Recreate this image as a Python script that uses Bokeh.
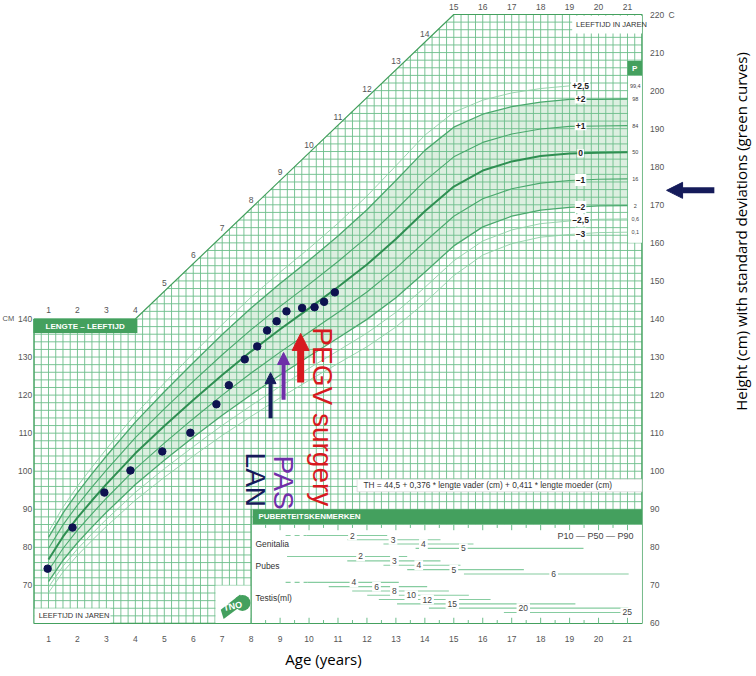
import numpy as np
from bokeh.plotting import figure
from bokeh.models import Range1d, Arrow, NormalHead
from bokeh.core.properties import value
from bokeh.embed import file_html
from bokeh.resources import INLINE

# ---------------- data ----------------
ages = [1, 1.5, 2, 2.5, 3, 4, 5, 6, 7, 8, 9, 10, 11, 12, 13, 14, 15, 16, 17, 18, 19, 20, 21]
mean_cm = [76.8, 82.8, 87.8, 92.3, 96.6, 104.7, 111.9, 118.7, 125.3, 131.5, 137.3, 142.8,
           148.4, 154.3, 161.0, 168.3, 174.8, 179.0, 181.4, 182.8, 183.5, 183.7, 183.8]
sd_cm = [2.9, 3.1, 3.3, 3.5, 3.7, 4.1, 4.5, 4.9, 5.3, 5.7, 6.0, 6.3,
         6.7, 7.2, 7.7, 8.0, 7.8, 7.4, 7.2, 7.1, 7.1, 7.0, 7.0]
sd_levels = [2.5, 2, 1, 0, -1, -2, -2.5, -3]
sd_labels = ["+2,5", "+2", "+1", "0", "\u20131", "\u20132", "\u20132,5", "\u20133"]
pct_labels = ["99,4", "98", "84", "50", "16", "2", "0,6", "0,1"]

patient_age = [0.97, 1.83, 2.93, 3.83, 4.93, 5.90, 6.80, 7.23, 7.78, 8.21, 8.55, 8.88,
               9.22, 9.76, 10.19, 10.52, 10.89]
patient_cm = [74.4, 85.2, 94.4, 100.2, 105.2, 110.1, 117.6, 122.6, 129.4, 132.8, 137.0,
              139.4, 142.0, 142.9, 143.1, 144.5, 147.0]

treat_names = ["LAN", "PAS", "PEGV surgery"]
treat_age = [8.67, 9.12, 9.71]
treat_from_cm = [113.9, 118.8, 123.3]
treat_to_cm = [125.9, 131.2, 136.2]

final_height_arrow_cm = 173.8

gen_stage = ["2", "3", "4", "5"]
gen_p10 = [9.91, 11.33, 12.57, 13.68]
gen_p50 = [11.50, 12.90, 13.95, 15.33]
gen_p90 = [12.70, 14.54, 15.68, 19.48]
gen_early = 9.19
pub_stage = ["2", "3", "4", "5", "6"]
pub_p10 = [9.24, 11.32, 12.57, 13.39, 15.35]
pub_p50 = [11.78, 12.95, 13.79, 15.00, 18.45]
pub_p90 = [13.39, 14.54, 15.23, 17.42, 21.04]
tes_stage = ["4", "6", "8", "10", "12", "15", "20", "25"]
tes_p10 = [9.94, 10.68, 11.49, 12.01, 12.41, 13.04, 14.14, 16.73]
tes_p50 = [11.55, 12.33, 12.95, 13.53, 14.08, 14.95, 17.40, 20.99]
tes_p90 = [13.10, 14.08, 14.83, 15.52, 16.27, 19.20, 21.03, 20.99]
tes_early = 9.19

left_ticks = [70, 80, 90, 100, 110, 120, 130, 140]
right_ticks = [60, 70, 80, 90, 100, 110, 120, 130, 140, 150, 160, 170, 180, 190, 200, 210, 220]
bottom_ages = list(range(1, 22))
top_left_ages = [1, 2, 3, 4]
diag_ages = [5, 6, 7, 8, 9, 10, 11, 12, 13, 14]
top_right_ages = [15, 16, 17, 18, 19, 20, 21]

# ---------------- style ----------------
GRID = "#6cbd8a"
BOX = "#44a05e"
FILL = "#dcefe0"
NAVY = "#151b5a"
PURPLE = "#6f2fa8"
RED = "#d7191f"
TXT = "#555555"
FONT = value("Liberation Sans")

p = figure(width=754, height=674, x_range=Range1d(-0.658, 25.387), y_range=Range1d(46.59, 223.68),
           x_axis_type=None, y_axis_type=None, min_border=0, outline_line_color=None,
           toolbar_location=None, output_backend="svg", background_fill_color="white",
           border_fill_color="white")

def top_of(a):
    if a <= 4:
        return 140.0
    if a >= 15:
        return 220.0
    return 140.0 + (a - 4) * 80.0 / 11.0

def left_of(c):
    if c <= 140:
        return 0.5
    return 4.0 + (c - 140) * 11.0 / 80.0

ages_a = np.array(ages)
mean_a = np.array(mean_cm)
sd_a = np.array(sd_cm)

# shaded band -2..+2
up = mean_a + 2 * sd_a
lo = mean_a - 2 * sd_a
p.patch(list(ages_a) + list(ages_a[::-1]), list(up) + list(lo[::-1]), fill_color=FILL, line_color=None)

# grid
gx, gy = [], []
for a in np.arange(0.5, 21.5 + 1e-9, 0.25):
    gx.append([a, a]); gy.append([60, top_of(a)])
for c in np.arange(60, 220 + 1e-9, 2):
    gx.append([left_of(c), 21.5]); gy.append([c, c])
p.multi_line(gx, gy, line_color=GRID, line_width=0.9)

# frame
p.patch([0.5, 21.5, 21.5, 15, 4, 0.5], [60, 60, 220, 220, 140, 140], fill_color=None,
        line_color=BOX, line_width=1.2)

# SD curves (+2.5 stops at its label)
style = {2.5: ("#8fd0a6", 0.9), 2: ("#4aa96d", 1.3), 1: ("#4aa96d", 1.1), 0: ("#2f8f52", 2.0),
         -1: ("#4aa96d", 1.1), -2: ("#4aa96d", 1.3), -2.5: ("#8fd0a6", 0.9), -3: ("#8fd0a6", 0.9)}
for z in sd_levels:
    col, w = style[z]
    n = len(ages) - 2 if z == 2.5 else len(ages)
    p.line(ages_a[:n], (mean_a + z * sd_a)[:n], line_color=col, line_width=w)

# white column right with percentiles + P box
p.quad(left=21.02, right=21.5, bottom=160, top=204, fill_color="white", line_color=None)
p.quad(left=21.0, right=21.5, bottom=204, top=207.8, fill_color=BOX, line_color=None)
p.text(x=[21.25], y=[205.9], text=["P"], text_color="white", text_font=FONT, text_font_style="bold",
       text_font_size="8px", text_align="center", text_baseline="middle")

lab_x = 19.38
sd_y = [float(np.interp(lab_x, ages_a, mean_a + z * sd_a)) for z in sd_levels]
p.text(x=[lab_x] * len(sd_labels), y=sd_y, text=sd_labels, text_font=FONT, text_font_style="bold",
       text_font_size="8.5px", text_color="#222222", text_align="center", text_baseline="middle",
       background_fill_color="white", padding=1)
pc_y = [float(mean_a[-1] + z * sd_a[-1]) for z in sd_levels]
p.text(x=[21.27] * len(pct_labels), y=pc_y, text=pct_labels, text_font=FONT, text_font_size="5.5px",
       text_color="#444444", text_align="center", text_baseline="middle")

# top-right label box
p.quad(left=19.09, right=21.5, bottom=215.0, top=219.7, fill_color="white", line_color=None)
p.text(x=[19.22], y=[217.4], text=["LEEFTIJD IN JAREN"], text_font=FONT, text_font_size="7.5px",
       text_color="#333333", text_baseline="middle")

# top-left green box
p.quad(left=0.48, right=4.07, bottom=136.3, top=140.0, fill_color=BOX, line_color=None)
p.text(x=[0.9], y=[138.1], text=["LENGTE \u2013 LEEFTIJD"], text_font=FONT, text_font_style="bold",
       text_font_size="8px", text_color="white", text_baseline="middle")

# bottom-left label box
p.quad(left=0.52, right=3.14, bottom=60.1, top=63.9, fill_color="white", line_color=None)
p.text(x=[0.66], y=[62.0], text=["LEEFTIJD IN JAREN"], text_font=FONT, text_font_size="7.5px",
       text_color="#333333", text_baseline="middle")

# TNO logo box
p.quad(left=6.77, right=7.99, bottom=60.1, top=70.0, fill_color="white", line_color=None)
p.patch([6.95, 7.62, 7.72, 7.05], [63.6, 67.6, 65.0, 61.2], fill_color=BOX, line_color=None)
p.scatter([7.70], [65.4], size=16, marker="circle", fill_color=BOX, line_color=None)
p.text(x=[7.36], y=[64.5], text=["TNO"], text_font=FONT, text_font_style="bold", text_font_size="9px",
       text_color="white", text_align="center", text_baseline="middle", angle=0.2)

# TH box
p.quad(left=11.66, right=21.5, bottom=94.6, top=97.9, fill_color="white", line_color="#cccccc",
       line_width=0.6)
p.text(x=[11.88], y=[96.25],
       text=["TH = 44,5 + 0,376 * lengte vader (cm) + 0,411 * lengte moeder (cm)"],
       text_font=FONT, text_font_size="8.3px", text_color="#333333", text_baseline="middle")

# puberty panel
p.quad(left=8.0, right=21.5, bottom=60.15, top=86.0, fill_color="white", line_color=None)
p.quad(left=8.05, right=21.5, bottom=86.0, top=90.0, fill_color=BOX, line_color=None)
p.segment(x0=[8.0], y0=[60], x1=[8.0], y1=[90], line_color=BOX, line_width=1.2)
p.text(x=[8.25], y=[88.0], text=["PUBERTEITSKENMERKEN"], text_font=FONT, text_font_style="bold",
       text_font_size="8px", text_color="white", text_baseline="middle")
tk_a = np.arange(8.0, 21.01, 0.5)
tk_h = [1.5 if abs(a - round(a)) < 1e-6 else 0.9 for a in tk_a]
p.segment(x0=tk_a, y0=[60.0] * len(tk_a), x1=tk_a, y1=[60.0 + h for h in tk_h], line_color=GRID, line_width=1)
p.segment(x0=tk_a, y0=[86.0] * len(tk_a), x1=tk_a, y1=[86.0 - h for h in tk_h], line_color=GRID, line_width=1)

PUB = "#86cca0"
def stage_rows(stages, p10, p50, p90, top, step, early=None):
    ys = [top - i * step for i in range(len(stages))]
    p.segment(x0=p10, y0=ys, x1=p90, y1=ys, line_color=PUB, line_width=1.1)
    if early is not None:
        p.segment(x0=[early], y0=[ys[0]], x1=[p10[0]], y1=[ys[0]], line_color=PUB, line_width=1.1,
                  line_dash="5 4")
    p.text(x=p50, y=ys, text=stages, text_font=FONT, text_font_size="8.5px", text_color="#444444",
           text_align="center", text_baseline="middle", background_fill_color="white", padding=2)

stage_rows(gen_stage, gen_p10, gen_p50, gen_p90, 83.1, 1.12, gen_early)
stage_rows(pub_stage, pub_p10, pub_p50, pub_p90, 77.6, 1.15)
stage_rows(tes_stage, tes_p10, tes_p50, tes_p90, 70.8, 1.13, tes_early)
p.text(x=[8.15, 8.15, 8.15], y=[81.0, 75.0, 66.8], text=["Genitalia", "Pubes", "Testis(ml)"],
       text_font=FONT, text_font_size="8.5px", text_color="#333333", text_baseline="middle")
p.text(x=[18.58], y=[83.1], text=["P10 \u2014 P50 \u2014 P90"], text_font=FONT, text_font_size="9px",
       text_color="#444444", text_baseline="middle")

# tick labels
p.text(x=[0.44] * len(left_ticks), y=left_ticks, text=[str(v) for v in left_ticks], text_font=FONT,
       text_font_size="8.5px", text_color=TXT, text_align="right", text_baseline="middle")
p.text(x=[-0.59], y=[140], text=["CM"], text_font=FONT, text_font_size="7.5px", text_color=TXT,
       text_baseline="middle")
p.text(x=[21.78] * len(right_ticks), y=right_ticks, text=[str(v) for v in right_ticks], text_font=FONT,
       text_font_size="8.5px", text_color=TXT, text_baseline="middle")
p.text(x=[22.42], y=[220], text=["C"], text_font=FONT, text_font_size="8.5px", text_color=TXT,
       text_baseline="middle")
p.text(x=bottom_ages, y=[56.0] * len(bottom_ages), text=[str(v) for v in bottom_ages], text_font=FONT,
       text_font_size="8.5px", text_color=TXT, text_align="center", text_baseline="middle")
p.text(x=top_left_ages, y=[142.3] * 4, text=[str(v) for v in top_left_ages], text_font=FONT,
       text_font_size="8.5px", text_color=TXT, text_align="center", text_baseline="middle")
p.text(x=diag_ages, y=[top_of(a) + 2.2 for a in diag_ages], text=[str(v) for v in diag_ages],
       text_font=FONT, text_font_size="8.5px", text_color=TXT, text_align="center", text_baseline="middle")
p.text(x=top_right_ages, y=[221.9] * len(top_right_ages), text=[str(v) for v in top_right_ages],
       text_font=FONT, text_font_size="8.5px", text_color=TXT, text_align="center", text_baseline="middle")

# patient data
p.scatter(patient_age, patient_cm, size=7.5, marker="circle", fill_color="#0e1250", line_color="#0e1250")

# treatment arrows
acol = [NAVY, PURPLE, RED]
aw = [4, 4, 7]
ah = [11, 12, 17]
for i in range(3):
    p.add_layout(Arrow(x_start=treat_age[i], y_start=treat_from_cm[i], x_end=treat_age[i], y_end=treat_to_cm[i],
                       line_color=acol[i], line_width=aw[i],
                       end=NormalHead(size=ah[i], fill_color=acol[i], line_color=acol[i])))

# rotated labels (reading top to bottom)
p.text(x=[8.15, 9.12, 10.46], y=[104.9, 104.1, 137.8], text=treat_names,
       text_color=[NAVY, PURPLE, RED], angle=-np.pi / 2, text_font=FONT, text_font_size="28px",
       text_align="left", text_baseline="alphabetic")

# final height arrow
p.add_layout(Arrow(x_start=24.0, y_start=final_height_arrow_cm, x_end=22.35, y_end=final_height_arrow_cm,
                   line_color=NAVY, line_width=6,
                   end=NormalHead(size=16, fill_color=NAVY, line_color=NAVY)))

# axis titles
p.text(x=[10.5], y=[50.7], text=["Age (years)"], text_font=value("Open Sans"), text_font_size="15px",
       text_color="black", text_align="center", text_baseline="middle")
p.text(x=[24.93], y=[163.0], text=["Height (cm) with standard deviations (green curves)"],
       text_font=value("Open Sans"), text_font_size="15px", text_color="black", text_align="center",
       text_baseline="middle", angle=np.pi / 2)

open("out.html", "w").write(file_html(p, INLINE))
